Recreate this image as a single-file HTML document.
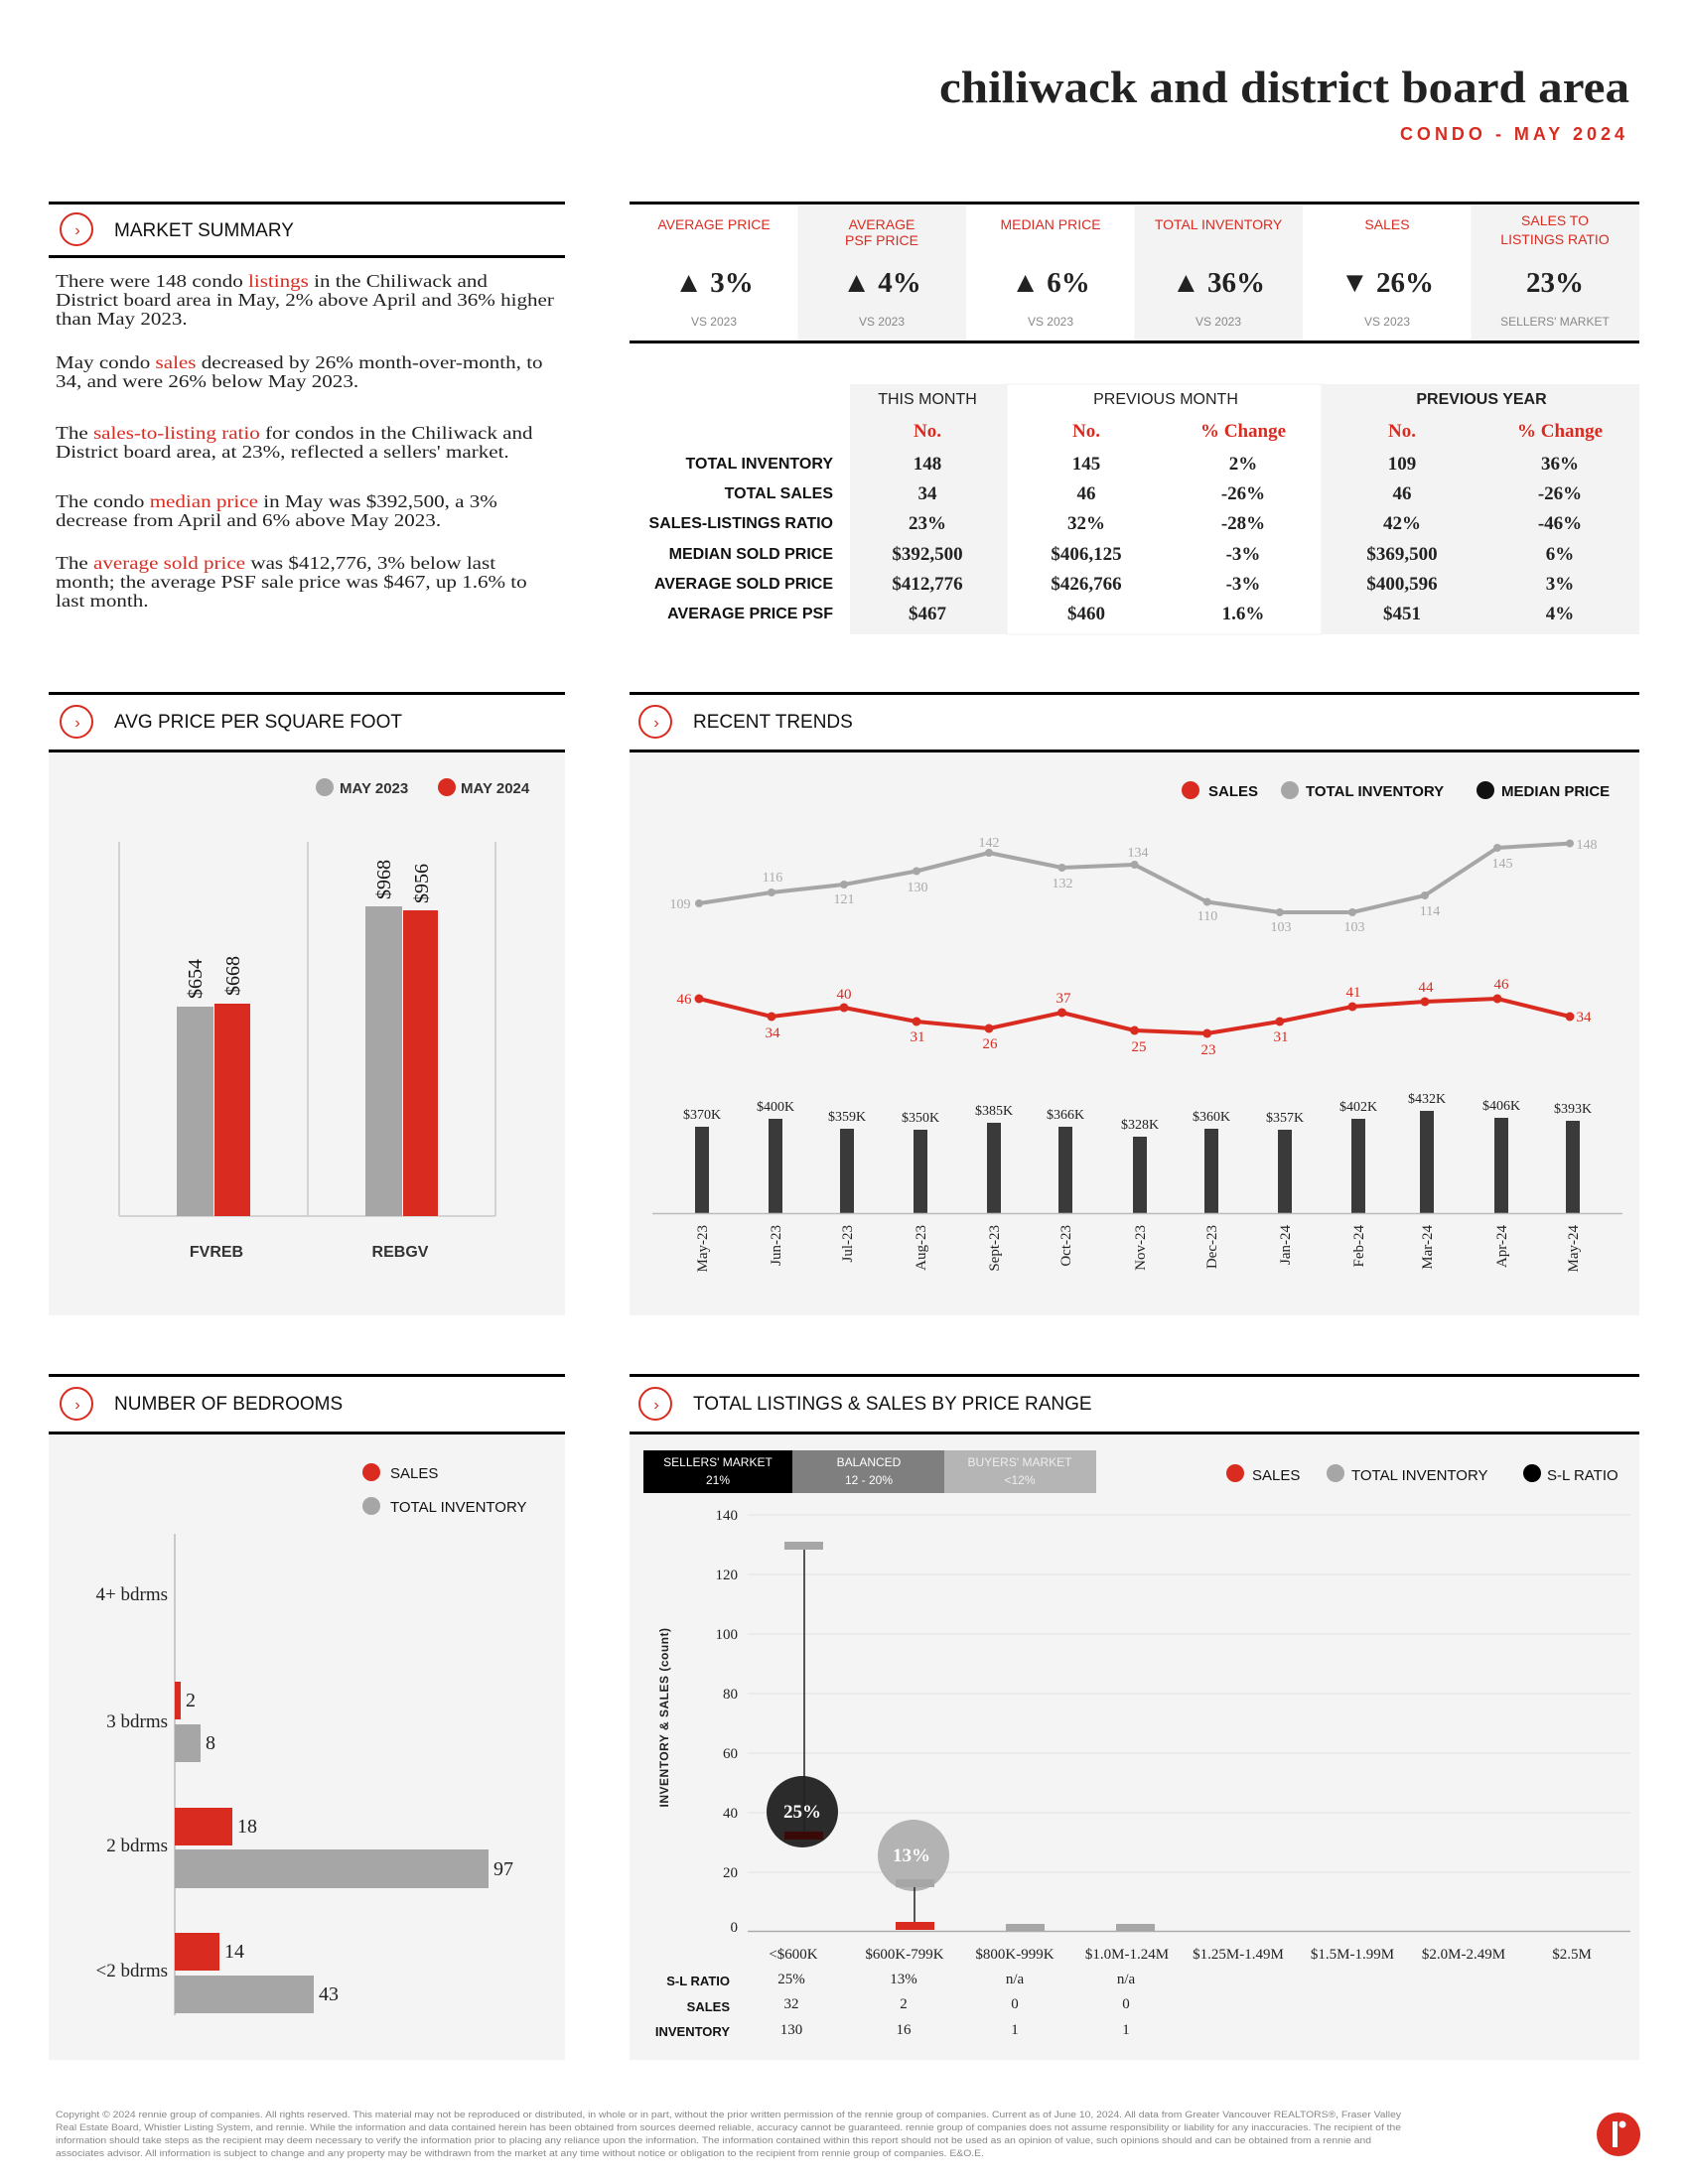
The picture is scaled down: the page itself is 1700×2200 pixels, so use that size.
<!DOCTYPE html>
<html><head><meta charset="utf-8"><style>
html,body{margin:0;padding:0;background:#fff}
svg{display:block}
.s{font-family:"Liberation Sans",sans-serif}
.r{font-family:"Liberation Serif",serif}
</style></head><body>
<svg width="1700" height="2200" viewBox="0 0 1700 2200" xmlns="http://www.w3.org/2000/svg">
<rect width="1700" height="2200" fill="#fff"/>
<text x="1641" y="103" text-anchor="end" class="r" font-weight="bold" font-size="46" fill="#222" textLength="695" lengthAdjust="spacingAndGlyphs">chiliwack and district board area</text>
<text x="1640" y="141" text-anchor="end" class="s" font-weight="bold" font-size="18" fill="#d92b20" letter-spacing="4">CONDO - MAY 2024</text>

<g fill="#000">
<rect x="49" y="203" width="520" height="3"/><rect x="49" y="257" width="520" height="3"/>
<rect x="634" y="203" width="1017" height="3"/><rect x="634" y="343" width="1017" height="3"/>
<rect x="49" y="697" width="520" height="3"/><rect x="49" y="755" width="520" height="3"/>
<rect x="634" y="697" width="1017" height="3"/><rect x="634" y="755" width="1017" height="3"/>
<rect x="49" y="1384" width="520" height="3"/><rect x="49" y="1442" width="520" height="3"/>
<rect x="634" y="1384" width="1017" height="3"/><rect x="634" y="1442" width="1017" height="3"/>
</g>
<g fill="none" stroke="#d92b20" stroke-width="2">
<circle cx="77" cy="231" r="16"/><circle cx="77" cy="727" r="16"/><circle cx="660" cy="727" r="16"/>
<circle cx="77" cy="1414" r="16"/><circle cx="660" cy="1414" r="16"/>
</g>
<g class="s" font-size="16" fill="#d92b20" text-anchor="middle">
<text x="78" y="237">›</text><text x="78" y="733">›</text><text x="661" y="733">›</text><text x="78" y="1420">›</text><text x="661" y="1420">›</text>
</g>
<g class="s" font-size="19" fill="#111">
<text x="115" y="238">MARKET SUMMARY</text>
<text x="115" y="733">AVG PRICE PER SQUARE FOOT</text>
<text x="698" y="733">RECENT TRENDS</text>
<text x="115" y="1420">NUMBER OF BEDROOMS</text>
<text x="698" y="1420">TOTAL LISTINGS &amp; SALES BY PRICE RANGE</text>
</g>

<g class="r" font-size="18" fill="#222" transform="translate(56,0) scale(1.17,1)">
<text x="0" y="289">There were 148 condo <tspan fill="#d92b20">listings</tspan> in the Chiliwack and</text>
<text x="0" y="308">District board area in May, 2% above April and 36% higher</text>
<text x="0" y="327">than May 2023.</text>
<text x="0" y="371">May condo <tspan fill="#d92b20">sales</tspan> decreased by 26% month-over-month, to</text>
<text x="0" y="390">34, and were 26% below May 2023.</text>
<text x="0" y="442">The <tspan fill="#d92b20">sales-to-listing ratio</tspan> for condos in the Chiliwack and</text>
<text x="0" y="461">District board area, at 23%, reflected a sellers' market.</text>
<text x="0" y="511">The condo <tspan fill="#d92b20">median price</tspan> in May was $392,500, a 3%</text>
<text x="0" y="530">decrease from April and 6% above May 2023.</text>
<text x="0" y="573">The <tspan fill="#d92b20">average sold price</tspan> was $412,776, 3% below last</text>
<text x="0" y="592">month; the average PSF sale price was $467, up 1.6% to</text>
<text x="0" y="611">last month.</text>
</g>

<g fill="#f3f3f3">
<rect x="803.5" y="207" width="169.5" height="136"/><rect x="1142.5" y="207" width="169.5" height="136"/><rect x="1481.5" y="207" width="169.5" height="136"/>
</g>
<g class="s" font-size="14" fill="#d92b20" text-anchor="middle">
<text x="719" y="231">AVERAGE PRICE</text>
<text x="888" y="231">AVERAGE</text><text x="888" y="247">PSF PRICE</text>
<text x="1058" y="231">MEDIAN PRICE</text>
<text x="1227" y="231">TOTAL INVENTORY</text>
<text x="1397" y="231">SALES</text>
<text x="1566" y="227">SALES TO</text><text x="1566" y="246">LISTINGS RATIO</text>
</g>
<g class="r" font-weight="bold" font-size="29" fill="#222" text-anchor="middle">
<text x="719" y="294">▲ 3%</text><text x="888" y="294">▲ 4%</text><text x="1058" y="294">▲ 6%</text>
<text x="1227" y="294">▲ 36%</text><text x="1397" y="294">▼ 26%</text><text x="1566" y="294">23%</text>
</g>
<g class="s" font-size="12" fill="#888" text-anchor="middle">
<text x="719" y="328">VS 2023</text><text x="888" y="328">VS 2023</text><text x="1058" y="328">VS 2023</text>
<text x="1227" y="328">VS 2023</text><text x="1397" y="328">VS 2023</text><text x="1566" y="328">SELLERS' MARKET</text>
</g>

<rect x="856" y="387" width="158" height="252" fill="#f3f3f3"/>
<rect x="1014" y="387" width="317" height="252" fill="#fff" stroke="#f0f0f0"/>
<rect x="1331" y="387" width="320" height="252" fill="#f3f3f3"/>
<g class="s" font-size="16" fill="#222" text-anchor="middle">
<text x="934" y="407">THIS MONTH</text><text x="1174" y="407">PREVIOUS MONTH</text><text x="1492" y="407" font-weight="bold">PREVIOUS YEAR</text>
</g>
<g class="r" font-weight="bold" font-size="19" fill="#d92b20" text-anchor="middle">
<text x="934" y="440">No.</text><text x="1094" y="440">No.</text><text x="1252" y="440">% Change</text><text x="1412" y="440">No.</text><text x="1571" y="440">% Change</text>
</g>
<g class="s" font-weight="bold" font-size="16" fill="#111" text-anchor="end">
<text x="839" y="472">TOTAL INVENTORY</text><text x="839" y="502">TOTAL SALES</text><text x="839" y="532">SALES-LISTINGS RATIO</text>
<text x="839" y="563">MEDIAN SOLD PRICE</text><text x="839" y="593">AVERAGE SOLD PRICE</text><text x="839" y="623">AVERAGE PRICE PSF</text>
</g>
<g class="r" font-weight="bold" font-size="19" fill="#222" text-anchor="middle">
<text x="934" y="473">148</text><text x="934" y="503">34</text><text x="934" y="533">23%</text><text x="934" y="564">$392,500</text><text x="934" y="594">$412,776</text><text x="934" y="624">$467</text>
<text x="1094" y="473">145</text><text x="1094" y="503">46</text><text x="1094" y="533">32%</text><text x="1094" y="564">$406,125</text><text x="1094" y="594">$426,766</text><text x="1094" y="624">$460</text>
<text x="1252" y="473">2%</text><text x="1252" y="503">-26%</text><text x="1252" y="533">-28%</text><text x="1252" y="564">-3%</text><text x="1252" y="594">-3%</text><text x="1252" y="624">1.6%</text>
<text x="1412" y="473">109</text><text x="1412" y="503">46</text><text x="1412" y="533">42%</text><text x="1412" y="564">$369,500</text><text x="1412" y="594">$400,596</text><text x="1412" y="624">$451</text>
<text x="1571" y="473">36%</text><text x="1571" y="503">-26%</text><text x="1571" y="533">-46%</text><text x="1571" y="564">6%</text><text x="1571" y="594">3%</text><text x="1571" y="624">4%</text>
</g>

<rect x="49" y="758" width="520" height="567" fill="#f4f4f4"/>
<circle cx="327" cy="793" r="9" fill="#a6a6a6"/><text x="342" y="799" class="s" font-weight="bold" font-size="15" fill="#333">MAY 2023</text>
<circle cx="450" cy="793" r="9" fill="#d92b20"/><text x="464" y="799" class="s" font-weight="bold" font-size="15" fill="#333">MAY 2024</text>
<g stroke="#c8c8c8" stroke-width="1.5" fill="none">
<line x1="120" y1="848" x2="120" y2="1225"/><line x1="310" y1="848" x2="310" y2="1225"/><line x1="499" y1="848" x2="499" y2="1225"/><line x1="120" y1="1225" x2="499" y2="1225"/>
</g>
<rect x="178" y="1014" width="37" height="211" fill="#a6a6a6"/><rect x="216" y="1011" width="36" height="214" fill="#d92b20"/>
<rect x="368" y="913" width="37" height="312" fill="#a6a6a6"/><rect x="406" y="917" width="35" height="308" fill="#d92b20"/>
<g class="r" font-size="20" fill="#111">
<text transform="translate(203,1006) rotate(-90)">$654</text>
<text transform="translate(241,1003) rotate(-90)">$668</text>
<text transform="translate(393,906) rotate(-90)">$968</text>
<text transform="translate(431,910) rotate(-90)">$956</text>
</g>
<g class="s" font-weight="bold" font-size="16" fill="#333" text-anchor="middle">
<text x="218" y="1266">FVREB</text><text x="403" y="1266">REBGV</text>
</g>

<rect x="634" y="758" width="1017" height="567" fill="#f4f4f4"/>
<circle cx="1199" cy="796" r="9" fill="#d92b20"/><text x="1217" y="802" class="s" font-weight="bold" font-size="15" fill="#111">SALES</text>
<circle cx="1299" cy="796" r="9" fill="#a6a6a6"/><text x="1315" y="802" class="s" font-weight="bold" font-size="15" fill="#111">TOTAL INVENTORY</text>
<circle cx="1496" cy="796" r="9" fill="#111"/><text x="1512" y="802" class="s" font-weight="bold" font-size="15" fill="#111">MEDIAN PRICE</text>
<polyline fill="none" stroke="#a6a6a6" stroke-width="4" stroke-linejoin="round" points="704,910 777,899 850,891 923,877.5 996,859 1069.5,874 1142.6,871 1215.7,908.5 1288.8,919 1362,919 1435,902 1508,854 1581,849.6"/>
<g fill="#a6a6a6">
<circle cx="704" cy="910" r="4"/><circle cx="777" cy="899" r="4"/><circle cx="850" cy="891" r="4"/><circle cx="923" cy="877.5" r="4"/><circle cx="996" cy="859" r="4"/><circle cx="1069.5" cy="874" r="4"/><circle cx="1142.6" cy="871" r="4"/><circle cx="1215.7" cy="908.5" r="4"/><circle cx="1288.8" cy="919" r="4"/><circle cx="1362" cy="919" r="4"/><circle cx="1435" cy="902" r="4"/><circle cx="1508" cy="854" r="4"/><circle cx="1581" cy="849.6" r="4"/>
</g>
<g class="r" font-size="14" fill="#aaa" text-anchor="middle">
<text x="685" y="915">109</text><text x="778" y="888">116</text><text x="850" y="910">121</text><text x="924" y="898">130</text><text x="996" y="853">142</text>
<text x="1070" y="894">132</text><text x="1146" y="863">134</text><text x="1216" y="927">110</text><text x="1290" y="938">103</text><text x="1364" y="938">103</text>
<text x="1440" y="922">114</text><text x="1513" y="874">145</text><text x="1598" y="855">148</text>
</g>
<polyline fill="none" stroke="#d92b20" stroke-width="4" stroke-linejoin="round" points="704,1006 777,1024 850,1015 923,1029 996,1036 1069.5,1020 1142.6,1038 1215.7,1041 1288.8,1029 1362,1014 1435,1009 1508,1006 1581,1024"/>
<g fill="#d92b20">
<circle cx="704" cy="1006" r="4.5"/><circle cx="777" cy="1024" r="4.5"/><circle cx="850" cy="1015" r="4.5"/><circle cx="923" cy="1029" r="4.5"/><circle cx="996" cy="1036" r="4.5"/><circle cx="1069.5" cy="1020" r="4.5"/><circle cx="1142.6" cy="1038" r="4.5"/><circle cx="1215.7" cy="1041" r="4.5"/><circle cx="1288.8" cy="1029" r="4.5"/><circle cx="1362" cy="1014" r="4.5"/><circle cx="1435" cy="1009" r="4.5"/><circle cx="1508" cy="1006" r="4.5"/><circle cx="1581" cy="1024" r="4.5"/>
</g>
<g class="r" font-size="15" fill="#d92b20" text-anchor="middle">
<text x="689" y="1011">46</text><text x="778" y="1045">34</text><text x="850" y="1006">40</text><text x="924" y="1049">31</text><text x="997" y="1056">26</text>
<text x="1071" y="1010">37</text><text x="1147" y="1059">25</text><text x="1217" y="1062">23</text><text x="1290" y="1049">31</text><text x="1363" y="1004">41</text>
<text x="1436" y="999">44</text><text x="1512" y="996">46</text><text x="1595" y="1029">34</text>
</g>
<g fill="#3a3a3a">
<rect x="700" y="1135" width="14" height="87"/><rect x="774" y="1127" width="14" height="95"/><rect x="846" y="1137" width="14" height="85"/><rect x="920" y="1138" width="14" height="84"/><rect x="994" y="1131" width="14" height="91"/><rect x="1066" y="1135" width="14" height="87"/><rect x="1141" y="1145" width="14" height="77"/><rect x="1213" y="1137" width="14" height="85"/><rect x="1287" y="1138" width="14" height="84"/><rect x="1361" y="1127" width="14" height="95"/><rect x="1430" y="1119" width="14" height="103"/><rect x="1505" y="1126" width="14" height="96"/><rect x="1577" y="1129" width="14" height="93"/>
</g>
<line x1="657" y1="1222.5" x2="1634" y2="1222.5" stroke="#bbb" stroke-width="1.5"/>
<g class="r" font-size="14" fill="#222" text-anchor="middle">
<text x="707" y="1127">$370K</text><text x="781" y="1119">$400K</text><text x="853" y="1129">$359K</text><text x="927" y="1130">$350K</text><text x="1001" y="1123">$385K</text><text x="1073" y="1127">$366K</text><text x="1148" y="1137">$328K</text><text x="1220" y="1129">$360K</text><text x="1294" y="1130">$357K</text><text x="1368" y="1119">$402K</text><text x="1437" y="1111">$432K</text><text x="1512" y="1118">$406K</text><text x="1584" y="1121">$393K</text>
</g>
<g class="r" font-size="15" fill="#222" text-anchor="end">
<text transform="translate(712,1234) rotate(-90)">May-23</text>
<text transform="translate(786,1234) rotate(-90)">Jun-23</text>
<text transform="translate(858,1234) rotate(-90)">Jul-23</text>
<text transform="translate(932,1234) rotate(-90)">Aug-23</text>
<text transform="translate(1006,1234) rotate(-90)">Sept-23</text>
<text transform="translate(1078,1234) rotate(-90)">Oct-23</text>
<text transform="translate(1153,1234) rotate(-90)">Nov-23</text>
<text transform="translate(1225,1234) rotate(-90)">Dec-23</text>
<text transform="translate(1299,1234) rotate(-90)">Jan-24</text>
<text transform="translate(1373,1234) rotate(-90)">Feb-24</text>
<text transform="translate(1442,1234) rotate(-90)">Mar-24</text>
<text transform="translate(1517,1234) rotate(-90)">Apr-24</text>
<text transform="translate(1589,1234) rotate(-90)">May-24</text>
</g>

<rect x="49" y="1445" width="520" height="630" fill="#f4f4f4"/>
<circle cx="374" cy="1483" r="9" fill="#d92b20"/><text x="393" y="1489" class="s" font-size="15" fill="#111">SALES</text>
<circle cx="374" cy="1517" r="9" fill="#a6a6a6"/><text x="393" y="1523" class="s" font-size="15" fill="#111">TOTAL INVENTORY</text>
<line x1="176" y1="1545" x2="176" y2="2030" stroke="#bbb" stroke-width="1.5"/>
<g class="r" font-size="19" fill="#222" text-anchor="end">
<text x="169" y="1612">4+ bdrms</text><text x="169" y="1740">3 bdrms</text><text x="169" y="1865">2 bdrms</text><text x="169" y="1991">&lt;2 bdrms</text>
</g>
<rect x="176" y="1694" width="6" height="38" fill="#d92b20"/>
<rect x="176" y="1737" width="26" height="38" fill="#a6a6a6"/>
<rect x="176" y="1821" width="58" height="38" fill="#d92b20"/>
<rect x="176" y="1863" width="316" height="39" fill="#a6a6a6"/>
<rect x="176" y="1947" width="45" height="38" fill="#d92b20"/>
<rect x="176" y="1990" width="140" height="38" fill="#a6a6a6"/>
<g class="r" font-size="20" fill="#222">
<text x="187" y="1719">2</text><text x="207" y="1762">8</text><text x="239" y="1846">18</text><text x="497" y="1889">97</text><text x="226" y="1972">14</text><text x="321" y="2015">43</text>
</g>

<rect x="634" y="1445" width="1017" height="630" fill="#f4f4f4"/>
<rect x="648" y="1461" width="150" height="43" fill="#000"/>
<rect x="798" y="1461" width="153" height="43" fill="#7f7f7f"/>
<rect x="951" y="1461" width="153" height="43" fill="#b5b5b5"/>
<g class="s" font-size="12" fill="#fff" text-anchor="middle">
<text x="723" y="1477">SELLERS' MARKET</text><text x="723" y="1495">21%</text>
<text x="875" y="1477">BALANCED</text><text x="875" y="1495">12 - 20%</text>
<text x="1027" y="1477" fill="#eee">BUYERS' MARKET</text><text x="1027" y="1495" fill="#eee">&lt;12%</text>
</g>
<circle cx="1244" cy="1484" r="9" fill="#d92b20"/><text x="1261" y="1491" class="s" font-size="15" fill="#111">SALES</text>
<circle cx="1345" cy="1484" r="9" fill="#a6a6a6"/><text x="1361" y="1491" class="s" font-size="15" fill="#111">TOTAL INVENTORY</text>
<circle cx="1543" cy="1484" r="9" fill="#000"/><text x="1558" y="1491" class="s" font-size="15" fill="#111">S-L RATIO</text>
<g stroke="#e2e2e2" stroke-width="1">
<line x1="753" y1="1526" x2="1642" y2="1526"/><line x1="753" y1="1586" x2="1642" y2="1586"/><line x1="753" y1="1646" x2="1642" y2="1646"/><line x1="753" y1="1706" x2="1642" y2="1706"/><line x1="753" y1="1766" x2="1642" y2="1766"/><line x1="753" y1="1826" x2="1642" y2="1826"/><line x1="753" y1="1886" x2="1642" y2="1886"/>
</g>
<line x1="753" y1="1945.5" x2="1642" y2="1945.5" stroke="#aaa" stroke-width="1.5"/>
<g class="r" font-size="15" fill="#222" text-anchor="end">
<text x="743" y="1531">140</text><text x="743" y="1591">120</text><text x="743" y="1651">100</text><text x="743" y="1711">80</text><text x="743" y="1771">60</text><text x="743" y="1831">40</text><text x="743" y="1891">20</text><text x="743" y="1946">0</text>
</g>
<text transform="translate(673,1730) rotate(-90)" class="s" font-size="12" font-weight="bold" fill="#222" text-anchor="middle" letter-spacing="0.5">INVENTORY &amp; SALES (count)</text>
<circle cx="808" cy="1825" r="36" fill="#2b2b2b"/>
<line x1="810" y1="1559" x2="810" y2="1849" stroke="#222" stroke-width="1.5"/>
<rect x="790" y="1553" width="39" height="8" fill="#a6a6a6"/>
<rect x="790" y="1845" width="39" height="8" fill="#3a0a08"/>
<text x="808" y="1831" class="r" font-weight="bold" font-size="19" fill="#fff" text-anchor="middle">25%</text>
<circle cx="920" cy="1869" r="36" fill="#b3b3b3"/>
<line x1="921" y1="1897" x2="921" y2="1940" stroke="#222" stroke-width="1.5"/>
<rect x="902" y="1893" width="39" height="8" fill="#a6a6a6"/>
<rect x="902" y="1936" width="39" height="8" fill="#d92b20"/>
<text x="918" y="1875" class="r" font-weight="bold" font-size="19" fill="#fff" text-anchor="middle">13%</text>
<rect x="1013" y="1938" width="39" height="7" fill="#a6a6a6"/>
<rect x="1124" y="1938" width="39" height="7" fill="#a6a6a6"/>
<g class="r" font-size="15" fill="#222" text-anchor="middle">
<text x="799" y="1973">&lt;$600K</text><text x="911" y="1973">$600K-799K</text><text x="1022" y="1973">$800K-999K</text><text x="1135" y="1973">$1.0M-1.24M</text><text x="1247" y="1973">$1.25M-1.49M</text><text x="1362" y="1973">$1.5M-1.99M</text><text x="1474" y="1973">$2.0M-2.49M</text><text x="1583" y="1973">$2.5M</text>
<text x="797" y="1998">25%</text><text x="910" y="1998">13%</text><text x="1022" y="1998">n/a</text><text x="1134" y="1998">n/a</text>
<text x="797" y="2023">32</text><text x="910" y="2023">2</text><text x="1022" y="2023">0</text><text x="1134" y="2023">0</text>
<text x="797" y="2049">130</text><text x="910" y="2049">16</text><text x="1022" y="2049">1</text><text x="1134" y="2049">1</text>
</g>
<g class="s" font-size="13" font-weight="bold" fill="#111" text-anchor="end">
<text x="735" y="2000">S-L RATIO</text><text x="735" y="2026">SALES</text><text x="735" y="2051">INVENTORY</text>
</g>

<g class="s" font-size="9" fill="#888">
<text x="56" y="2133" textLength="1355" lengthAdjust="spacingAndGlyphs">Copyright © 2024 rennie group of companies. All rights reserved. This material may not be reproduced or distributed, in whole or in part, without the prior written permission of the rennie group of companies. Current as of June 10, 2024. All data from Greater Vancouver REALTORS®, Fraser Valley</text>
<text x="56" y="2146" textLength="1355" lengthAdjust="spacingAndGlyphs">Real Estate Board, Whistler Listing System, and rennie. While the information and data contained herein has been obtained from sources deemed reliable, accuracy cannot be guaranteed. rennie group of companies does not assume responsibility or liability for any inaccuracies. The recipient of the</text>
<text x="56" y="2159" textLength="1325" lengthAdjust="spacingAndGlyphs">information should take steps as the recipient may deem necessary to verify the information prior to placing any reliance upon the information. The information contained within this report should not be used as an opinion of value, such opinions should and can be obtained from a rennie and</text>
<text x="56" y="2172" textLength="935" lengthAdjust="spacingAndGlyphs">associates advisor. All information is subject to change and any property may be withdrawn from the market at any time without notice or obligation to the recipient from rennie group of companies. E&amp;O.E.</text>
</g>
<circle cx="1630" cy="2150" r="22" fill="#d92b20"/>
<rect x="1624" y="2137" width="5" height="26" fill="#fff"/><circle cx="1634" cy="2140" r="3.5" fill="#fff"/>
</svg>
</body></html>
